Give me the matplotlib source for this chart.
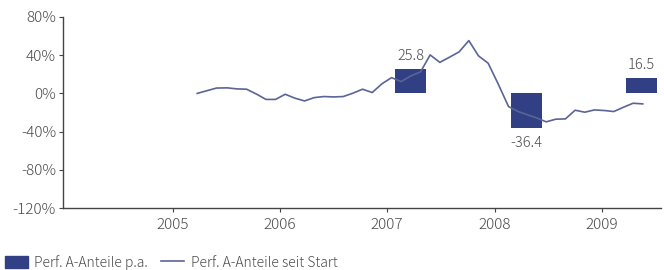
import matplotlib.pyplot as plt
from matplotlib.patches import Patch
from matplotlib.lines import Line2D

plt.rcParams['font.family'] = ['Noto Sans CJK JP', 'DejaVu Sans']
plt.rcParams['font.weight'] = 'light'

# yearly performance bars
bar_x = [2007.22, 2008.30, 2009.37]
bar_vals = [25.8, -36.4, 16.5]
bar_labels = ['25.8', '-36.4', '16.5']

# performance since start (%)
line_x = [2005.23, 2005.41, 2005.51, 2005.60, 2005.69, 2005.79, 2005.87, 2005.96,
          2006.05, 2006.14, 2006.23, 2006.32, 2006.41, 2006.50, 2006.59, 2006.68,
          2006.77, 2006.86, 2006.95, 2007.04, 2007.13, 2007.22, 2007.31, 2007.40,
          2007.49, 2007.58, 2007.67, 2007.76, 2007.85, 2007.94, 2008.03, 2008.13,
          2008.22, 2008.31, 2008.40, 2008.48, 2008.57, 2008.66, 2008.75, 2008.84,
          2008.93, 2009.03, 2009.11, 2009.20, 2009.29, 2009.38]
line_y = [0.0, 5.6, 5.8, 4.7, 4.4, -1.2, -6.3, -6.3,
          -0.9, -5.0, -7.9, -4.4, -3.3, -3.7, -3.3, 0.2,
          4.4, 0.9, 10.0, 16.5, 12.4, 18.3, 22.5, 40.3,
          32.5, 37.9, 43.5, 55.3, 39.3, 31.6, 10.7, -13.8,
          -19.0, -22.5, -26.0, -29.8, -27.0, -26.7, -17.6, -19.7,
          -17.3, -18.0, -19.0, -14.5, -10.3, -11.0]

years = [2005, 2006, 2007, 2008, 2009]
y_ticks = [80, 40, 0, -40, -80, -120]

bar_color = '#313f85'
line_color = '#5b6496'
axis_color = '#444444'
text_color = '#4a4a4a'

fig = plt.figure(figsize=(6.64, 2.70), dpi=100)
ax = fig.add_axes([63 / 664, 62 / 270, 598 / 664, 191 / 270])

ax.bar(bar_x, bar_vals, width=0.29, color=bar_color, zorder=2)
ax.plot(line_x, line_y, color=line_color, linewidth=1.2, zorder=3)

for x, v, lab in zip(bar_x, bar_vals, bar_labels):
    off = 9 if v > 0 else -11
    ax.annotate(lab, (x, v), textcoords='offset points', xytext=(0, off),
                ha='center', va='center', fontsize=10.5, color=text_color)

ax.set_xlim(2003.98, 2009.55)
ax.set_ylim(-120, 80)
ax.set_xticks(years)
ax.set_xticklabels([str(y) for y in years])
ax.set_yticks(y_ticks)
ax.set_yticklabels([f'{t}%' for t in y_ticks])

for s in ['top', 'right']:
    ax.spines[s].set_visible(False)
for s in ['left', 'bottom']:
    ax.spines[s].set_color(axis_color)
    ax.spines[s].set_linewidth(1.0)
ax.tick_params(axis='both', colors=axis_color, labelcolor=text_color,
               labelsize=11, length=3, width=0.8)
ax.tick_params(axis='x', pad=4)
ax.tick_params(axis='y', pad=2)

handles = [Patch(facecolor=bar_color, edgecolor=bar_color),
           Line2D([0], [0], color=line_color, linewidth=1.2)]
fig.legend(handles, ['Perf. A-Anteile p.a.', 'Perf. A-Anteile seit Start'],
           loc='lower left', bbox_to_anchor=(-0.012, -0.045), ncol=2, frameon=False,
           fontsize=10, labelcolor=text_color, handlelength=1.7, handleheight=0.9,
           handletextpad=0.45, columnspacing=0.9)

fig.savefig('out.png', dpi=100)
